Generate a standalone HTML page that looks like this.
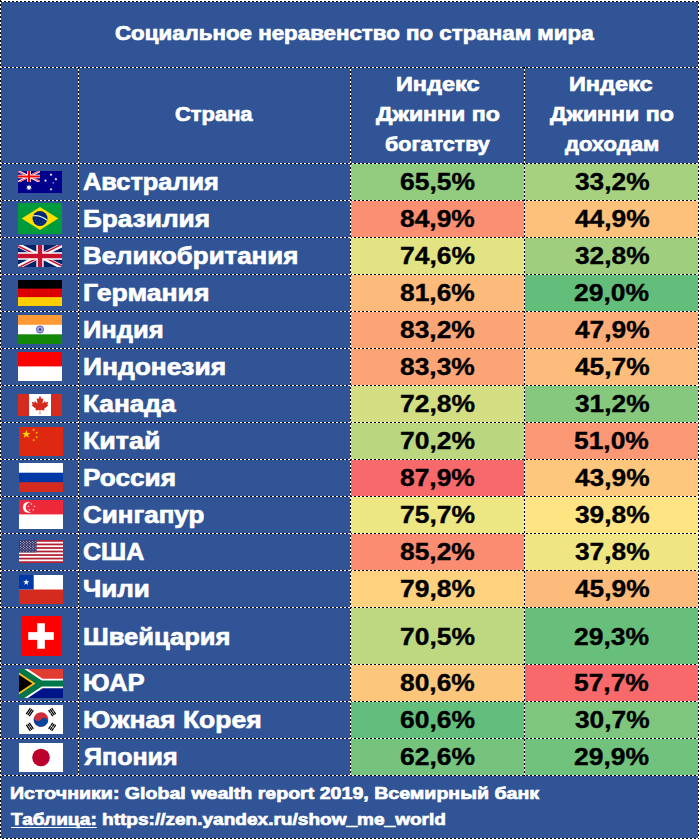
<!DOCTYPE html>
<html lang="ru"><head><meta charset="utf-8"><title>Социальное неравенство по странам мира</title>
<style>html,body{margin:0;padding:0;background:#fff}
#w{position:relative;width:700px;height:839px;overflow:hidden;background:#fff;font-family:'Liberation Sans', Arial, sans-serif;font-weight:bold}
#bg{position:absolute;left:1px;top:2px;width:697px;height:836px;background:#305496}
.c{position:absolute}
.h{position:absolute;left:0;width:699px;height:1px;background:repeating-linear-gradient(90deg,#fff 0,#fff 2px,#000 2px,#000 4px)}
.v{position:absolute;top:1px;width:1px;background:repeating-linear-gradient(180deg,#000 0,#000 2px,#fff 2px,#fff 4px)}
.t{position:absolute;white-space:nowrap;line-height:1;transform-origin:0 0}
.f{position:absolute}
u{text-decoration:underline;text-decoration-thickness:1.2px;text-underline-offset:1.9px;text-decoration-skip-ink:none}
</style></head><body>
<div id="w">
<div id="bg"></div>
<div class="c" style="left:351px;top:164px;width:173px;height:36px;background:#90cb7e"></div><div class="c" style="left:525px;top:164px;width:173px;height:36px;background:#a6d17f"></div>
<div class="c" style="left:351px;top:201px;width:173px;height:36px;background:#fa8f72"></div><div class="c" style="left:525px;top:201px;width:173px;height:36px;background:#fdc17c"></div>
<div class="c" style="left:351px;top:238px;width:173px;height:36px;background:#e2e382"></div><div class="c" style="left:525px;top:238px;width:173px;height:36px;background:#9fcf7e"></div>
<div class="c" style="left:351px;top:275px;width:173px;height:36px;background:#fcba7b"></div><div class="c" style="left:525px;top:275px;width:173px;height:36px;background:#63be7b"></div>
<div class="c" style="left:351px;top:312px;width:173px;height:36px;background:#fba577"></div><div class="c" style="left:525px;top:312px;width:173px;height:36px;background:#fcac78"></div>
<div class="c" style="left:351px;top:349px;width:173px;height:36px;background:#fba476"></div><div class="c" style="left:525px;top:349px;width:173px;height:36px;background:#fcbc7b"></div>
<div class="c" style="left:351px;top:386px;width:173px;height:36px;background:#d2de81"></div><div class="c" style="left:525px;top:386px;width:173px;height:36px;background:#86c87d"></div>
<div class="c" style="left:351px;top:423px;width:173px;height:36px;background:#bad780"></div><div class="c" style="left:525px;top:423px;width:173px;height:36px;background:#fa9774"></div>
<div class="c" style="left:351px;top:460px;width:173px;height:36px;background:#f8696b"></div><div class="c" style="left:525px;top:460px;width:173px;height:36px;background:#fdc87d"></div>
<div class="c" style="left:351px;top:497px;width:173px;height:36px;background:#ece683"></div><div class="c" style="left:525px;top:497px;width:173px;height:36px;background:#ffe483"></div>
<div class="c" style="left:351px;top:534px;width:173px;height:36px;background:#fa8c72"></div><div class="c" style="left:525px;top:534px;width:173px;height:36px;background:#efe683"></div>
<div class="c" style="left:351px;top:571px;width:173px;height:36px;background:#fed17f"></div><div class="c" style="left:525px;top:571px;width:173px;height:36px;background:#fcba7b"></div>
<div class="c" style="left:351px;top:608px;width:173px;height:56px;background:#bdd880"></div><div class="c" style="left:525px;top:608px;width:173px;height:56px;background:#68bf7b"></div>
<div class="c" style="left:351px;top:665px;width:173px;height:36px;background:#fdc67d"></div><div class="c" style="left:525px;top:665px;width:173px;height:36px;background:#f8696b"></div>
<div class="c" style="left:351px;top:702px;width:173px;height:36px;background:#63be7b"></div><div class="c" style="left:525px;top:702px;width:173px;height:36px;background:#7ec67d"></div>
<div class="c" style="left:351px;top:739px;width:173px;height:36px;background:#75c37c"></div><div class="c" style="left:525px;top:739px;width:173px;height:36px;background:#71c27c"></div>
<div class="h" style="top:1px;background-position:2px 0"></div><div class="h" style="top:67px"></div><div class="h" style="top:163px"></div><div class="h" style="top:200px"></div><div class="h" style="top:237px"></div><div class="h" style="top:274px"></div><div class="h" style="top:311px"></div><div class="h" style="top:348px"></div><div class="h" style="top:385px"></div><div class="h" style="top:422px"></div><div class="h" style="top:459px"></div><div class="h" style="top:496px"></div><div class="h" style="top:533px"></div><div class="h" style="top:570px"></div><div class="h" style="top:607px"></div><div class="h" style="top:664px"></div><div class="h" style="top:701px"></div><div class="h" style="top:738px"></div><div class="h" style="top:775px"></div><div class="h" style="top:838px"></div>
<div class="v" style="left:0px;top:0px;height:839px"></div><div class="v" style="left:78px;top:67px;height:709px"></div><div class="v" style="left:350px;top:67px;height:709px"></div><div class="v" style="left:524px;top:67px;height:709px"></div><div class="v" style="left:698px;top:2px;height:837px"></div>
<svg class="f" style="left:18px;top:171px" width="44" height="22" viewBox="0 0 44 22" preserveAspectRatio="none" ><rect width="44" height="22" fill="#00008b"/><g transform="scale(0.36667)"><clipPath id="aus"><path d="M0,0v30h60v-30z"/></clipPath><clipPath id="aut"><path d="M30,15h30v15zv15h-30zh-30v-15zv-15h30z"/></clipPath><g clip-path="url(#aus)"><path d="M0,0v30h60v-30z" fill="#00008b"/><path d="M0,0L60,30M60,0L0,30" stroke="#fff" stroke-width="6"/><path d="M0,0L60,30M60,0L0,30" clip-path="url(#aut)" stroke="#ff0000" stroke-width="4"/><path d="M30,0v30M0,15h60" stroke="#fff" stroke-width="10"/><path d="M30,0v30M0,15h60" stroke="#ff0000" stroke-width="6"/></g></g><polygon fill="#fff" points="11.00,13.20 11.64,15.16 13.58,14.44 12.45,16.17 14.22,17.23 12.16,17.43 12.43,19.47 11.00,17.98 9.57,19.47 9.84,17.43 7.78,17.23 9.55,16.17 8.42,14.44 10.36,15.16"/><polygon fill="#fff" points="33.00,16.83 33.33,17.65 34.17,17.39 33.73,18.16 34.46,18.66 33.59,18.80 33.65,19.68 33.00,19.08 32.35,19.68 32.41,18.80 31.54,18.66 32.27,18.16 31.83,17.39 32.67,17.65"/><polygon fill="#fff" points="27.50,8.12 27.83,8.94 28.67,8.68 28.23,9.45 28.96,9.95 28.09,10.09 28.15,10.97 27.50,10.37 26.85,10.97 26.91,10.09 26.04,9.95 26.77,9.45 26.33,8.68 27.17,8.94"/><polygon fill="#fff" points="33.00,2.17 33.33,2.99 34.17,2.73 33.73,3.50 34.46,4.00 33.59,4.14 33.65,5.02 33.00,4.42 32.35,5.02 32.41,4.14 31.54,4.00 32.27,3.50 31.83,2.73 32.67,2.99"/><polygon fill="#fff" points="37.90,6.66 38.23,7.48 39.07,7.22 38.63,7.99 39.36,8.49 38.49,8.63 38.55,9.51 37.90,8.91 37.25,9.51 37.31,8.63 36.44,8.49 37.17,7.99 36.73,7.22 37.57,7.48"/><polygon fill="#fff" points="35.20,11.00 35.44,11.57 36.06,11.62 35.59,12.03 35.73,12.63 35.20,12.30 34.67,12.63 34.81,12.03 34.34,11.62 34.96,11.57"/></svg>
<svg class="f" style="left:18px;top:203px" width="44" height="31" viewBox="0 0 44 31" preserveAspectRatio="none" ><rect width="44" height="31" fill="#009b3a"/><polygon fill="#fedf00" points="3.7,15.5 22,4.1 40.3,15.5 22,26.9"/><clipPath id="brc"><circle cx="22" cy="15.5" r="7.5"/></clipPath><circle cx="22" cy="15.5" r="7.5" fill="#002776"/><path clip-path="url(#brc)" d="M13,13.1 Q21.5,10.9 30.5,18.1" fill="none" stroke="#d5ecd9" stroke-width="1.15"/><g fill="#8fa6d6" opacity="0.75"><circle cx="17.6" cy="17.2" r="0.45"/><circle cx="19.4" cy="19.4" r="0.4"/><circle cx="21.6" cy="17.9" r="0.4"/><circle cx="22.3" cy="20.6" r="0.45"/><circle cx="24.3" cy="18.8" r="0.4"/><circle cx="25.8" cy="20.2" r="0.4"/><circle cx="20.6" cy="21.4" r="0.35"/><circle cx="26.9" cy="17.9" r="0.35"/><circle cx="18.4" cy="15.3" r="0.35"/></g></svg>
<svg class="f" style="left:18px;top:245px" width="44" height="22" viewBox="0 0 60 30" preserveAspectRatio="none" ><clipPath id="uks"><path d="M0,0v30h60v-30z"/></clipPath><clipPath id="ukt"><path d="M30,15h30v15zv15h-30zh-30v-15zv-15h30z"/></clipPath><g clip-path="url(#uks)"><path d="M0,0v30h60v-30z" fill="#012169"/><path d="M0,0L60,30M60,0L0,30" stroke="#fff" stroke-width="6"/><path d="M0,0L60,30M60,0L0,30" clip-path="url(#ukt)" stroke="#c8102e" stroke-width="4"/><path d="M30,0v30M0,15h60" stroke="#fff" stroke-width="10"/><path d="M30,0v30M0,15h60" stroke="#c8102e" stroke-width="6"/></g></svg>
<svg class="f" style="left:18px;top:280px" width="44" height="26" viewBox="0 0 44 26" preserveAspectRatio="none" ><rect width="44" height="26" fill="#ffce00"/><rect width="44" height="17.1" fill="#dd0000"/><rect width="44" height="8.6" fill="#000"/></svg>
<svg class="f" style="left:18px;top:315px" width="44" height="29" viewBox="0 0 44 29" preserveAspectRatio="none" ><rect width="44" height="29" fill="#fff"/><rect width="44" height="9.8" fill="#ff9933"/><rect y="19.3" width="44" height="9.7" fill="#138808"/><circle cx="22" cy="14.5" r="3.55" fill="none" stroke="#2a2aa0" stroke-width="0.8"/><g stroke="#2a2aa0" stroke-width="0.28"><path d="M25.50,14.50L18.50,14.50"/><path d="M25.38,15.41L18.62,13.59"/><path d="M25.03,16.25L18.97,12.75"/><path d="M24.47,16.97L19.53,12.03"/><path d="M23.75,17.53L20.25,11.47"/><path d="M22.91,17.88L21.09,11.12"/><path d="M22.00,18.00L22.00,11.00"/><path d="M21.09,17.88L22.91,11.12"/><path d="M20.25,17.53L23.75,11.47"/><path d="M19.53,16.97L24.47,12.03"/><path d="M18.97,16.25L25.03,12.75"/><path d="M18.62,15.41L25.38,13.59"/></g><circle cx="22" cy="14.5" r="1.1" fill="#2a2aa0"/></svg>
<svg class="f" style="left:18px;top:352px" width="44" height="29" viewBox="0 0 44 29" preserveAspectRatio="none" ><rect width="44" height="29" fill="#fff"/><rect width="44" height="14.4" fill="#ff0000"/></svg>
<svg class="f" style="left:18px;top:394px" width="44" height="22" viewBox="0 0 9600 4800" preserveAspectRatio="none" ><rect width="9600" height="4800" fill="#d52b1e"/><rect x="2400" width="4800" height="4800" fill="#fff"/><path fill="#d52b1e" d="m4890 4430-45-863a95 95 0 0 1 111-98l859 151-116-320a65 65 0 0 1 20-73l941-762-212-99a65 65 0 0 1-34-79l186-572-542 115a65 65 0 0 1-73-38l-105-247-423 454a65 65 0 0 1-111-57l204-1052-327 189a65 65 0 0 1-91-27l-332-652-332 652a65 65 0 0 1-91 27l-327-189 204 1052a65 65 0 0 1-111 57l-423-454-105 247a65 65 0 0 1-73 38l-542-115 186 572a65 65 0 0 1-34 79l-212 99 941 762a65 65 0 0 1 20 73l-116 320 859-151a95 95 0 0 1 111 98l-45 863z"/></svg>
<svg class="f" style="left:19px;top:427px" width="44" height="29" viewBox="0 0 30 20" preserveAspectRatio="none" ><rect width="30" height="20" fill="#de2910"/><polygon fill="#ffde00" points="5.00,2.00 5.67,4.07 7.85,4.07 6.09,5.35 6.76,7.43 5.00,6.15 3.24,7.43 3.91,5.35 2.15,4.07 4.33,4.07"/><polygon fill="#ffde00" points="9.14,2.51 9.62,1.97 9.25,1.34 9.91,1.63 10.39,1.08 10.33,1.80 11.00,2.09 10.29,2.25 10.22,2.97 9.85,2.35"/><polygon fill="#ffde00" points="11.01,4.14 11.66,3.82 11.56,3.10 12.07,3.62 12.72,3.30 12.38,3.95 12.88,4.47 12.17,4.34 11.83,4.99 11.73,4.27"/><polygon fill="#ffde00" points="11.04,6.73 11.76,6.70 11.96,6.00 12.21,6.68 12.94,6.66 12.37,7.10 12.62,7.79 12.01,7.38 11.44,7.83 11.64,7.13"/><polygon fill="#ffde00" points="9.22,8.38 9.90,8.63 10.35,8.06 10.32,8.79 11.00,9.05 10.30,9.24 10.26,9.96 9.87,9.36 9.16,9.55 9.62,8.98"/></svg>
<svg class="f" style="left:19px;top:463px" width="44" height="29" viewBox="0 0 44 29" preserveAspectRatio="none" ><rect width="44" height="29" fill="#d52b1e"/><rect width="44" height="19.2" fill="#0039a6"/><rect width="44" height="9.7" fill="#fff"/></svg>
<svg class="f" style="left:19px;top:500px" width="44" height="29" viewBox="0 0 44 29" preserveAspectRatio="none" ><rect width="44" height="29" fill="#fff"/><rect width="44" height="14.4" fill="#ed2939"/><circle cx="9.45" cy="7.25" r="5.55" fill="#fff"/><circle cx="11.75" cy="7.25" r="5.0" fill="#ed2939"/><polygon fill="#fff" points="12.40,2.95 12.66,3.74 13.49,3.74 12.82,4.24 13.08,5.03 12.40,4.54 11.72,5.03 11.98,4.24 11.31,3.74 12.14,3.74"/><polygon fill="#fff" points="15.49,5.20 15.75,5.99 16.58,5.99 15.91,6.48 16.17,7.28 15.49,6.78 14.81,7.28 15.07,6.48 14.40,5.99 15.23,5.99"/><polygon fill="#fff" points="14.31,8.83 14.57,9.62 15.40,9.62 14.73,10.12 14.99,10.91 14.31,10.42 13.63,10.91 13.89,10.12 13.22,9.62 14.05,9.62"/><polygon fill="#fff" points="10.49,8.83 10.75,9.62 11.58,9.62 10.91,10.12 11.17,10.91 10.49,10.42 9.81,10.91 10.07,10.12 9.40,9.62 10.23,9.62"/><polygon fill="#fff" points="9.31,5.20 9.57,5.99 10.40,5.99 9.73,6.48 9.99,7.28 9.31,6.78 8.63,7.28 8.89,6.48 8.22,5.99 9.05,5.99"/></svg>
<svg class="f" style="left:19px;top:540px" width="44" height="23" viewBox="0 0 247 130" preserveAspectRatio="none" ><rect width="247" height="130" fill="#fff"/><rect y="0" width="247" height="10" fill="#b22234"/><rect y="20" width="247" height="10" fill="#b22234"/><rect y="40" width="247" height="10" fill="#b22234"/><rect y="60" width="247" height="10" fill="#b22234"/><rect y="80" width="247" height="10" fill="#b22234"/><rect y="100" width="247" height="10" fill="#b22234"/><rect y="120" width="247" height="10" fill="#b22234"/><rect width="98.8" height="70" fill="#3c3b6e"/><g fill="#fff"><circle cx="8.2" cy="7.0" r="2.6"/><circle cx="24.7" cy="7.0" r="2.6"/><circle cx="41.2" cy="7.0" r="2.6"/><circle cx="57.6" cy="7.0" r="2.6"/><circle cx="74.1" cy="7.0" r="2.6"/><circle cx="90.6" cy="7.0" r="2.6"/><circle cx="16.5" cy="14.0" r="2.6"/><circle cx="32.9" cy="14.0" r="2.6"/><circle cx="49.4" cy="14.0" r="2.6"/><circle cx="65.9" cy="14.0" r="2.6"/><circle cx="82.3" cy="14.0" r="2.6"/><circle cx="8.2" cy="21.0" r="2.6"/><circle cx="24.7" cy="21.0" r="2.6"/><circle cx="41.2" cy="21.0" r="2.6"/><circle cx="57.6" cy="21.0" r="2.6"/><circle cx="74.1" cy="21.0" r="2.6"/><circle cx="90.6" cy="21.0" r="2.6"/><circle cx="16.5" cy="28.0" r="2.6"/><circle cx="32.9" cy="28.0" r="2.6"/><circle cx="49.4" cy="28.0" r="2.6"/><circle cx="65.9" cy="28.0" r="2.6"/><circle cx="82.3" cy="28.0" r="2.6"/><circle cx="8.2" cy="35.0" r="2.6"/><circle cx="24.7" cy="35.0" r="2.6"/><circle cx="41.2" cy="35.0" r="2.6"/><circle cx="57.6" cy="35.0" r="2.6"/><circle cx="74.1" cy="35.0" r="2.6"/><circle cx="90.6" cy="35.0" r="2.6"/><circle cx="16.5" cy="42.0" r="2.6"/><circle cx="32.9" cy="42.0" r="2.6"/><circle cx="49.4" cy="42.0" r="2.6"/><circle cx="65.9" cy="42.0" r="2.6"/><circle cx="82.3" cy="42.0" r="2.6"/><circle cx="8.2" cy="49.0" r="2.6"/><circle cx="24.7" cy="49.0" r="2.6"/><circle cx="41.2" cy="49.0" r="2.6"/><circle cx="57.6" cy="49.0" r="2.6"/><circle cx="74.1" cy="49.0" r="2.6"/><circle cx="90.6" cy="49.0" r="2.6"/><circle cx="16.5" cy="56.0" r="2.6"/><circle cx="32.9" cy="56.0" r="2.6"/><circle cx="49.4" cy="56.0" r="2.6"/><circle cx="65.9" cy="56.0" r="2.6"/><circle cx="82.3" cy="56.0" r="2.6"/><circle cx="8.2" cy="63.0" r="2.6"/><circle cx="24.7" cy="63.0" r="2.6"/><circle cx="41.2" cy="63.0" r="2.6"/><circle cx="57.6" cy="63.0" r="2.6"/><circle cx="74.1" cy="63.0" r="2.6"/><circle cx="90.6" cy="63.0" r="2.6"/></g></svg>
<svg class="f" style="left:19px;top:575px" width="44" height="29" viewBox="0 0 44 29" preserveAspectRatio="none" ><rect width="44" height="29" fill="#d52b1e"/><rect width="44" height="14.5" fill="#fff"/><rect width="14.7" height="14.5" fill="#0039a6"/><polygon fill="#fff" points="7.25,4.00 7.99,6.28 10.39,6.28 8.45,7.69 9.19,9.97 7.25,8.56 5.31,9.97 6.05,7.69 4.11,6.28 6.51,6.28"/></svg>
<svg class="f" style="left:21px;top:616px" width="40" height="40" viewBox="0 0 40 40" preserveAspectRatio="none" ><rect width="40" height="40" fill="#ff0000"/><rect x="7.25" y="16.15" width="25.5" height="7.7" fill="#fff"/><rect x="16.15" y="7.25" width="7.7" height="25.5" fill="#fff"/></svg>
<svg class="f" style="left:19px;top:669px" width="44" height="29" viewBox="0 0 90 60" preserveAspectRatio="none" ><clipPath id="zat"><path d="m0 0 45 30L0 60z"/></clipPath><clipPath id="zaf"><path d="m0 0h90v60H0z"/></clipPath><path fill="#e03c31" d="m0 0h90v30H45z"/><path fill="#001489" d="m0 60h90V30H45z"/><g fill="none" clip-path="url(#zaf)"><path stroke="#fff" stroke-width="20" d="m90 30H45L0 0v60l45-30"/><path fill="#000" stroke="#ffb81c" stroke-width="20" clip-path="url(#zat)" d="m0 0 45 30L0 60"/><path stroke="#007749" stroke-width="12" d="m0 0 45 30h45M0 60l45-30"/></g></svg>
<svg class="f" style="left:19px;top:705px" width="44" height="29" viewBox="-36 -24 72 48" preserveAspectRatio="none" ><rect x="-36" y="-24" width="72" height="48" fill="#fff"/><g transform="rotate(-56.3099325)"><path d="M-6-25H6M-6-22H6M-6-19H6M-6 19H6M-6 22H6M-6 25H6" stroke="#000" stroke-width="2"/><path stroke="#fff" stroke-width="1" d="M0,17v10"/><circle fill="#cd2e3a" r="12"/><path fill="#0047a0" d="M0-12A6,6 0 0 0 0,0A6,6 0 0 1 0,12A12,12 0 0 1 0-12Z"/></g><g transform="rotate(-123.6900675)"><path d="M-6-25H6M-6-22H6M-6-19H6M-6 19H6M-6 22H6M-6 25H6" stroke="#000" stroke-width="2"/><path stroke="#fff" stroke-width="1" d="M0-23.5v3M0,17v3.5M0,23.5v3"/></g></svg>
<svg class="f" style="left:19px;top:743px" width="44" height="29" viewBox="0 0 44 29" preserveAspectRatio="none" ><rect width="44" height="29" fill="#fff"/><circle cx="22" cy="14.5" r="8.8" fill="#bc002d"/></svg>

<div class="t" style="left:115.44px;top:24.10px;font-size:19.8px;color:#fff;-webkit-text-stroke:0.7px #fff;transform:scaleX(1.1281)">Социальное неравенство по странам мира</div>
<div class="t" style="left:175.45px;top:105.10px;font-size:19.9px;color:#fff;-webkit-text-stroke:0.7px #fff;transform:scaleX(1.1018)">Страна</div>
<div class="t" style="left:395.62px;top:74.60px;font-size:19.9px;color:#fff;-webkit-text-stroke:0.7px #fff;transform:scaleX(1.1799)">Индекс</div>
<div class="t" style="left:376.29px;top:105.40px;font-size:19.9px;color:#fff;-webkit-text-stroke:0.7px #fff;transform:scaleX(1.1633)">Джинни по</div>
<div class="t" style="left:384.91px;top:135.30px;font-size:19.9px;color:#fff;-webkit-text-stroke:0.7px #fff;transform:scaleX(1.0822)">богатству</div>
<div class="t" style="left:569.42px;top:74.60px;font-size:19.9px;color:#fff;-webkit-text-stroke:0.7px #fff;transform:scaleX(1.1799)">Индекс</div>
<div class="t" style="left:550.09px;top:105.40px;font-size:19.9px;color:#fff;-webkit-text-stroke:0.7px #fff;transform:scaleX(1.1633)">Джинни по</div>
<div class="t" style="left:565.13px;top:135.30px;font-size:19.9px;color:#fff;-webkit-text-stroke:0.7px #fff;transform:scaleX(1.1065)">доходам</div>
<div class="t" style="left:83.04px;top:169.50px;font-size:24.0px;color:#fff;-webkit-text-stroke:0.7px #fff;transform:scaleX(1.0567)">Австралия</div>
<div class="t" style="left:399.76px;top:170.55px;font-size:23.6px;color:#000;-webkit-text-stroke:0.35px #000;transform:scaleX(1.1224)">65,5%</div>
<div class="t" style="left:574.52px;top:170.55px;font-size:23.6px;color:#000;-webkit-text-stroke:0.35px #000;transform:scaleX(1.1140)">33,2%</div>
<div class="t" style="left:82.63px;top:206.50px;font-size:24.0px;color:#fff;-webkit-text-stroke:0.7px #fff;transform:scaleX(1.0927)">Бразилия</div>
<div class="t" style="left:400.04px;top:207.55px;font-size:23.6px;color:#000;-webkit-text-stroke:0.35px #000;transform:scaleX(1.1182)">84,9%</div>
<div class="t" style="left:574.52px;top:207.55px;font-size:23.6px;color:#000;-webkit-text-stroke:0.35px #000;transform:scaleX(1.1140)">44,9%</div>
<div class="t" style="left:82.65px;top:243.50px;font-size:24.0px;color:#fff;-webkit-text-stroke:0.7px #fff;transform:scaleX(1.0782)">Великобритания</div>
<div class="t" style="left:399.76px;top:244.55px;font-size:23.6px;color:#000;-webkit-text-stroke:0.35px #000;transform:scaleX(1.1224)">74,6%</div>
<div class="t" style="left:574.52px;top:244.55px;font-size:23.6px;color:#000;-webkit-text-stroke:0.35px #000;transform:scaleX(1.1140)">32,8%</div>
<div class="t" style="left:82.61px;top:280.50px;font-size:24.0px;color:#fff;-webkit-text-stroke:0.7px #fff;transform:scaleX(1.1085)">Германия</div>
<div class="t" style="left:400.04px;top:281.55px;font-size:23.6px;color:#000;-webkit-text-stroke:0.35px #000;transform:scaleX(1.1182)">81,6%</div>
<div class="t" style="left:573.96px;top:281.55px;font-size:23.6px;color:#000;-webkit-text-stroke:0.35px #000;transform:scaleX(1.1224)">29,0%</div>
<div class="t" style="left:82.67px;top:317.50px;font-size:24.0px;color:#fff;-webkit-text-stroke:0.7px #fff;transform:scaleX(1.0648)">Индия</div>
<div class="t" style="left:400.04px;top:318.55px;font-size:23.6px;color:#000;-webkit-text-stroke:0.35px #000;transform:scaleX(1.1182)">83,2%</div>
<div class="t" style="left:574.52px;top:318.55px;font-size:23.6px;color:#000;-webkit-text-stroke:0.35px #000;transform:scaleX(1.1140)">47,9%</div>
<div class="t" style="left:82.63px;top:354.50px;font-size:24.0px;color:#fff;-webkit-text-stroke:0.7px #fff;transform:scaleX(1.0990)">Индонезия</div>
<div class="t" style="left:400.04px;top:355.55px;font-size:23.6px;color:#000;-webkit-text-stroke:0.35px #000;transform:scaleX(1.1182)">83,3%</div>
<div class="t" style="left:574.52px;top:355.55px;font-size:23.6px;color:#000;-webkit-text-stroke:0.35px #000;transform:scaleX(1.1140)">45,7%</div>
<div class="t" style="left:82.64px;top:391.50px;font-size:24.0px;color:#fff;-webkit-text-stroke:0.7px #fff;transform:scaleX(1.0917)">Канада</div>
<div class="t" style="left:399.76px;top:392.55px;font-size:23.6px;color:#000;-webkit-text-stroke:0.35px #000;transform:scaleX(1.1224)">72,8%</div>
<div class="t" style="left:574.52px;top:392.55px;font-size:23.6px;color:#000;-webkit-text-stroke:0.35px #000;transform:scaleX(1.1140)">31,2%</div>
<div class="t" style="left:82.60px;top:428.50px;font-size:24.0px;color:#fff;-webkit-text-stroke:0.7px #fff;transform:scaleX(1.1176)">Китай</div>
<div class="t" style="left:399.76px;top:429.55px;font-size:23.6px;color:#000;-webkit-text-stroke:0.35px #000;transform:scaleX(1.1224)">70,2%</div>
<div class="t" style="left:574.24px;top:429.55px;font-size:23.6px;color:#000;-webkit-text-stroke:0.35px #000;transform:scaleX(1.1182)">51,0%</div>
<div class="t" style="left:82.64px;top:465.50px;font-size:24.0px;color:#fff;-webkit-text-stroke:0.7px #fff;transform:scaleX(1.0912)">Россия</div>
<div class="t" style="left:400.04px;top:466.55px;font-size:23.6px;color:#000;-webkit-text-stroke:0.35px #000;transform:scaleX(1.1182)">87,9%</div>
<div class="t" style="left:574.52px;top:466.55px;font-size:23.6px;color:#000;-webkit-text-stroke:0.35px #000;transform:scaleX(1.1140)">43,9%</div>
<div class="t" style="left:83.19px;top:502.50px;font-size:24.0px;color:#fff;-webkit-text-stroke:0.7px #fff;transform:scaleX(1.0817)">Сингапур</div>
<div class="t" style="left:399.76px;top:503.55px;font-size:23.6px;color:#000;-webkit-text-stroke:0.35px #000;transform:scaleX(1.1224)">75,7%</div>
<div class="t" style="left:574.52px;top:503.55px;font-size:23.6px;color:#000;-webkit-text-stroke:0.35px #000;transform:scaleX(1.1140)">39,8%</div>
<div class="t" style="left:83.22px;top:539.50px;font-size:24.0px;color:#fff;-webkit-text-stroke:0.7px #fff;transform:scaleX(1.0424)">США</div>
<div class="t" style="left:400.04px;top:540.55px;font-size:23.6px;color:#000;-webkit-text-stroke:0.35px #000;transform:scaleX(1.1182)">85,2%</div>
<div class="t" style="left:574.52px;top:540.55px;font-size:23.6px;color:#000;-webkit-text-stroke:0.35px #000;transform:scaleX(1.1140)">37,8%</div>
<div class="t" style="left:82.91px;top:576.50px;font-size:24.0px;color:#fff;-webkit-text-stroke:0.7px #fff;transform:scaleX(1.0852)">Чили</div>
<div class="t" style="left:399.76px;top:577.55px;font-size:23.6px;color:#000;-webkit-text-stroke:0.35px #000;transform:scaleX(1.1224)">79,8%</div>
<div class="t" style="left:574.52px;top:577.55px;font-size:23.6px;color:#000;-webkit-text-stroke:0.35px #000;transform:scaleX(1.1140)">45,9%</div>
<div class="t" style="left:82.67px;top:624.50px;font-size:24.0px;color:#fff;-webkit-text-stroke:0.7px #fff;transform:scaleX(1.0647)">Швейцария</div>
<div class="t" style="left:399.76px;top:625.55px;font-size:23.6px;color:#000;-webkit-text-stroke:0.35px #000;transform:scaleX(1.1224)">70,5%</div>
<div class="t" style="left:573.96px;top:625.55px;font-size:23.6px;color:#000;-webkit-text-stroke:0.35px #000;transform:scaleX(1.1224)">29,3%</div>
<div class="t" style="left:82.66px;top:670.50px;font-size:24.0px;color:#fff;-webkit-text-stroke:0.7px #fff;transform:scaleX(1.0726)">ЮАР</div>
<div class="t" style="left:400.04px;top:671.55px;font-size:23.6px;color:#000;-webkit-text-stroke:0.35px #000;transform:scaleX(1.1182)">80,6%</div>
<div class="t" style="left:574.24px;top:671.55px;font-size:23.6px;color:#000;-webkit-text-stroke:0.35px #000;transform:scaleX(1.1182)">57,7%</div>
<div class="t" style="left:82.62px;top:707.50px;font-size:24.0px;color:#fff;-webkit-text-stroke:0.7px #fff;transform:scaleX(1.1033)">Южная Корея</div>
<div class="t" style="left:399.76px;top:708.55px;font-size:23.6px;color:#000;-webkit-text-stroke:0.35px #000;transform:scaleX(1.1224)">60,6%</div>
<div class="t" style="left:574.52px;top:708.55px;font-size:23.6px;color:#000;-webkit-text-stroke:0.35px #000;transform:scaleX(1.1140)">30,7%</div>
<div class="t" style="left:84.00px;top:744.50px;font-size:24.0px;color:#fff;-webkit-text-stroke:0.7px #fff;transform:scaleX(1.0441)">Япония</div>
<div class="t" style="left:399.76px;top:745.55px;font-size:23.6px;color:#000;-webkit-text-stroke:0.35px #000;transform:scaleX(1.1224)">62,6%</div>
<div class="t" style="left:573.96px;top:745.55px;font-size:23.6px;color:#000;-webkit-text-stroke:0.35px #000;transform:scaleX(1.1224)">29,9%</div>
<div class="t" style="left:10.11px;top:785.50px;font-size:16.6px;color:#fff;-webkit-text-stroke:0.7px #fff;transform:scaleX(1.1806)">Источники: Global wealth report 2019, Всемирный банк</div>
<div class="t" style="left:11.49px;top:811.50px;font-size:16.6px;color:#fff;-webkit-text-stroke:0.7px #fff;transform:scaleX(1.1477)"><u>Таблица:</u> https://zen.yandex.ru/show_me_world</div>
</div>
</body></html>
